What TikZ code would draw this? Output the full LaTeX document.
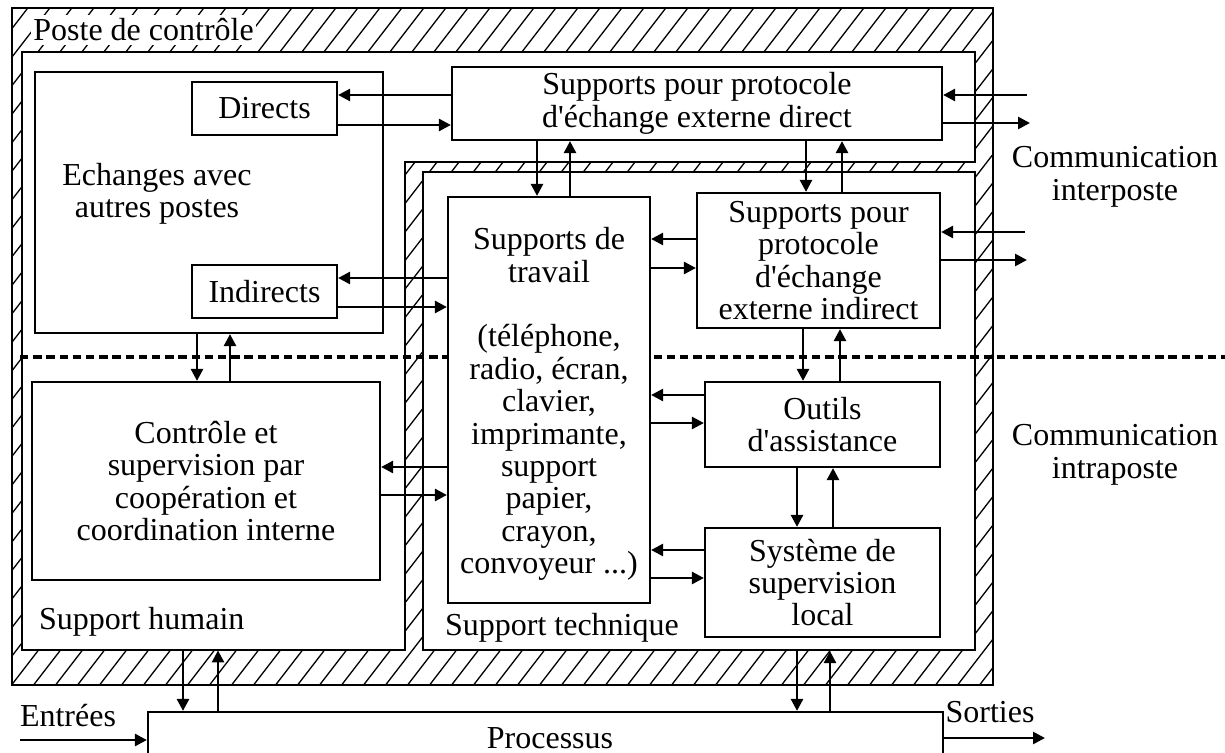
\documentclass[tikz,border=0pt]{standalone}
\usepackage{fontspec}
\setmainfont{Liberation Serif}
\usetikzlibrary{arrows.meta,calc,fit}
\newcommand\apos{\textquotesingle}
\tikzset{
	pixel grid/.style={x=0.5pt,y=-0.5pt},
	wall/.style={line width=1.1pt},
	hatch/.style={line width=0.65pt},
	box/.style={draw,line width=1.1pt,inner sep=0pt,fill=white},
	ar/.style={line width=1.3pt,-{Triangle[length=6pt,width=6pt]}},
	sep line/.style={line width=2.4pt,dash pattern=on 4.2pt off 2.4pt},
	txt/.style={font=\fontsize{16}{16.2}\selectfont,align=center}
}

\begin{document}
\begin{tikzpicture}[pixel grid, every node/.style={txt}]
   \useasboundingbox (0,0) rectangle (1225,753);
   % hatched walls of the control post
   \begin{scope}[even odd rule]
      \clip (12,8) rectangle (993,685)
         (22,52) -- (975,52) -- (975,162) -- (405,162) -- (405,650) -- (22,650) -- cycle
         (423,172) rectangle (975,650);
      \foreach \i in {-25,...,46}
         \draw[hatch] (\i*22,700) -- ++(540,-700);
   \end{scope}
   \draw[wall] (12,8) rectangle (993,685);
   \draw[wall] (22,52) -- (975,52) -- (975,162) -- (405,162) -- (405,650) -- (22,650) -- cycle;
   \node[draw, wall, inner sep=0pt, fit={(423,172) (975,650)}] (technique) {};
   \node[inner sep=0pt, fit={(22,162) (405,650)}] (humain) {};
   \node[fill=white, inner xsep=1pt, inner ysep=2pt, anchor=west] (poste) at (31,30) {Poste de contrôle};

   \draw[sep line] (20,357) -- (1225,357);

   % boxes, then their texts
   \node[box, fit={(35,72) (383,333)}] (echanges) {};
   \node[box, fit={(192,82) (337,135)}] (directs) {};
   \node[box, fit={(192,265) (337,318)}] (indirects) {};
   \node[box, fit={(32,382) (380,580)}] (controle) {};
   \node[box, fit={(452,67) (942,140)}] (extdirect) {};
   \node[box, fit={(448,197) (650,603)}] (travail) {};
   \node[box, fit={(697,193) (940,328)}] (extindirect) {};
   \node[box, fit={(705,382) (940,467)}] (outils) {};
   \node[box, fit={(705,528) (940,637)}] (systeme) {};
   \node[box, fit={(148,712) (943,800)}] (proc) {};

   \node (echanges-t) at (157,194) {Echanges avec\\autres postes};
   \node (directs-t) at (directs) {Directs};
   \node (indirects-t) at (indirects) {Indirects};
   \node (controle-t) at (controle) {Contrôle et\\supervision par\\coopération et\\coordination interne};
   \node (extdirect-t) at (extdirect) {Supports pour protocole\\d\apos échange externe direct};
   \node (travail-t) at ([yshift=-2pt]travail.center) {Supports de\\travail\\[16.2pt](téléphone,\\radio, écran,\\clavier,\\imprimante,\\support\\papier,\\crayon,\\convoyeur ...)};
   \node (extindirect-t) at (extindirect) {Supports pour\\protocole\\d\apos échange\\externe indirect};
   \node (outils-t) at (outils) {Outils\\d\apos assistance};
   \node (systeme-t) at (systeme) {Système de\\supervision\\local};
   \node (proc-t) at (550,738) {Processus};

   \node[anchor=west] (humain-t) at (32,622) {Support humain};
   \node[anchor=west] (technique-t) at (438,628) {Support technique};
   \node (inter) at (1115,177) {Communication\\interposte};
   \node (intra) at (1115,455) {Communication\\intraposte};
   \node (entrees) at (68,716) {Entrées};
   \node (sorties) at (990,712) {Sorties};

   % exchanges inside the post
   \draw[ar] (extdirect.west |- 0,95) -- (directs.east |- 0,95);
   \draw[ar] (directs.east |- 0,125) -- (extdirect.west |- 0,125);
   \draw[ar] (537,0 |- extdirect.south) -- (537,0 |- travail.north);
   \draw[ar] (570,0 |- travail.north) -- (570,0 |- extdirect.south);
   \draw[ar] (806,0 |- extdirect.south) -- (806,0 |- extindirect.north);
   \draw[ar] (842,0 |- extindirect.north) -- (842,0 |- extdirect.south);
   \draw[ar] (extindirect.west |- 0,239) -- (travail.east |- 0,239);
   \draw[ar] (travail.east |- 0,268) -- (extindirect.west |- 0,268);
   \draw[ar] (travail.west |- 0,278) -- (indirects.east |- 0,278);
   \draw[ar] (indirects.east |- 0,307) -- (travail.west |- 0,307);
   \draw[ar] (197,0 |- echanges.south) -- (197,0 |- controle.north);
   \draw[ar] (230,0 |- controle.north) -- (230,0 |- echanges.south);
   \draw[ar] (outils.west |- 0,395) -- (travail.east |- 0,395);
   \draw[ar] (travail.east |- 0,423) -- (outils.west |- 0,423);
   \draw[ar] (travail.west |- 0,467) -- (controle.east |- 0,467);
   \draw[ar] (controle.east |- 0,495) -- (travail.west |- 0,495);
   \draw[ar] (803,0 |- extindirect.south) -- (803,0 |- outils.north);
   \draw[ar] (840,0 |- outils.north) -- (840,0 |- extindirect.south);
   \draw[ar] (797,0 |- outils.south) -- (797,0 |- systeme.north);
   \draw[ar] (833,0 |- systeme.north) -- (833,0 |- outils.south);
   \draw[ar] (systeme.west |- 0,550) -- (travail.east |- 0,550);
   \draw[ar] (travail.east |- 0,578) -- (systeme.west |- 0,578);

   % links with the process
   \draw[ar] (183,0 |- humain.south) -- (183,0 |- proc.north);
   \draw[ar] (218,0 |- proc.north) -- (218,0 |- humain.south);
   \draw[ar] (797,0 |- technique.south) -- (797,0 |- proc.north);
   \draw[ar] (830,0 |- proc.north) -- (830,0 |- technique.south);
   \coordinate (inlet) at (20,740);
   \coordinate (outlet) at (1045,738);
   \draw[ar] (inlet) -- (proc.west |- inlet);
   \draw[ar] (proc.east |- outlet) -- (outlet);

   % links with other posts
   \coordinate (dirIn) at (1027,95);
   \coordinate (dirOut) at (1030,123);
   \coordinate (indIn) at (1025,232);
   \coordinate (indOut) at (1027,260);
   \draw[ar] (dirIn) -- (extdirect.east |- dirIn);
   \draw[ar] (extdirect.east |- dirOut) -- (dirOut);
   \draw[ar] (indIn) -- (extindirect.east |- indIn);
   \draw[ar] (extindirect.east |- indOut) -- (indOut);
\end{tikzpicture}
\end{document}
